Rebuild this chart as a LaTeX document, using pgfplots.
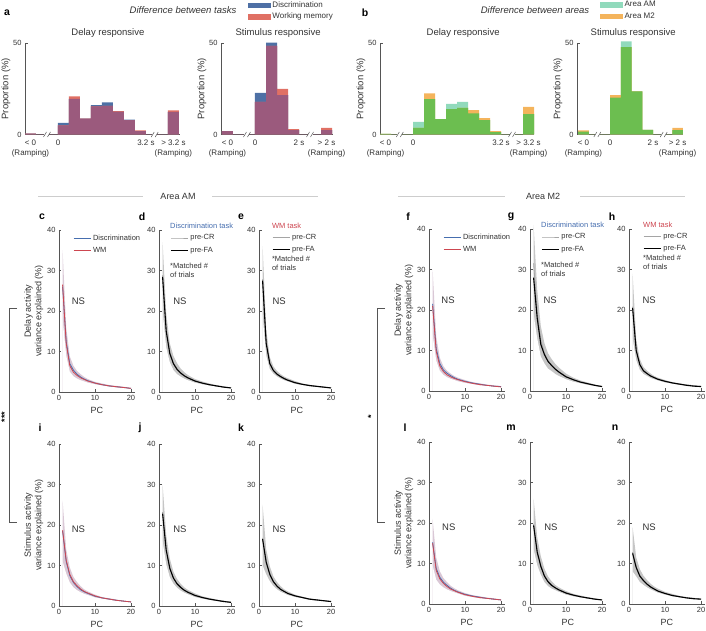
\documentclass[border=0pt]{standalone}
\usepackage{fontspec}
\setmainfont{Liberation Sans}
\setsansfont{Liberation Sans}
\usepackage{pgfplots}
\usepackage{pgfplotstable}
\pgfplotsset{compat=1.18}

\definecolor{axgray}{HTML}{555555}
\definecolor{txt}{HTML}{333333}
\definecolor{hBlue}{RGB}{78,112,165}
\definecolor{hRed}{RGB}{224,112,100}
\definecolor{hPurple}{RGB}{155,90,125}
\definecolor{hTeal}{RGB}{145,218,188}
\definecolor{hOrange}{RGB}{244,180,92}
\definecolor{hGreen}{RGB}{108,190,80}
\definecolor{cBlue}{RGB}{70,110,175}
\definecolor{cRed}{RGB}{205,70,80}
\definecolor{cGray}{RGB}{165,165,165}
\definecolor{bandTask}{RGB}{218,200,214}
\definecolor{bandTrial}{RGB}{198,198,198}
\definecolor{hdrline}{RGB}{205,205,205}

\newcommand{\ftick}{\fontsize{7.5}{9}\selectfont}
\newcommand{\fhtick}{\fontsize{8}{10}\selectfont}
\newcommand{\flab}{\fontsize{9}{10.5}\selectfont}
\newcommand{\fleg}{\fontsize{7.5}{9}\selectfont}
\newcommand{\ftitle}{\fontsize{9.5}{11}\selectfont}
\newcommand{\fletter}{\bfseries\fontsize{10.5}{12}\selectfont}

\pgfplotsset{
  base/.style={scale only axis, anchor=south west, axis lines*=left,
    axis line style={axgray, line width=0.6pt},
    tick style={axgray, line width=0.5pt}, tick align=inside, major tick length=2.5pt,
    tick label style={font=\ftick, text=txt},
    label style={font=\flab, text=txt},
    /pgf/number format/assume math mode=true, clip=false},
  hist/.style={base, height=91.5pt, ymin=0, ymax=50, ytick={0,50},
    xtick style={draw=none}, xticklabel style={align=center, font=\fhtick, yshift=-2pt},
    ylabel={Proportion (\%)}, ylabel style={font=\ftitle}, ylabel shift=-4pt,
    title style={font=\ftitle, text=txt, yshift=-4pt}},
  pca/.style={base, axis on top, width=75.6pt, height=162pt, xmin=0, xmax=21, ymin=0, ymax=40,
    xtick={0,10,20}, ytick={0,10,20,30,40}, xlabel={PC},
    ylabel style={align=center}, ylabel shift=-3pt,
    legend style={draw=none, fill=none, font=\fleg, text=txt, inner sep=0pt,
      row sep=1.5pt, anchor=north west},
    legend cell align=left},
}

% columns: PC, series a (mean), series b (mean), shaded band (low, high)
\pgfplotstableread{
pc a b lo hi
1 26.0 26.5 18.0 35.0
2 12.5 12.0 9.0 16.0
3 7.0 6.5 5.0 8.8
4 5.4 4.9 3.9 6.5
5 4.4 4.1 3.3 5.2
6 3.7 3.5 2.9 4.4
7 3.2 3.1 2.6 3.7
8 2.8 2.7 2.3 3.2
10 2.2 2.2 1.9 2.5
12 1.8 1.8 1.6 2.1
14 1.5 1.5 1.3 1.7
16 1.3 1.3 1.1 1.5
18 1.1 1.1 1.0 1.3
20 0.9 0.9 0.8 1.0
}\tabc
\pgfplotstableread{
pc a b lo hi
1 28.8 28.4 20.0 37.0
2 15.5 15.0 11.0 19.5
3 9.8 9.5 7.3 12.0
4 7.2 7.0 5.4 8.9
5 5.8 5.6 4.4 7.1
6 4.8 4.7 3.8 5.8
7 4.1 4.0 3.3 4.9
8 3.6 3.5 2.9 4.2
10 2.8 2.7 2.3 3.2
12 2.2 2.2 1.9 2.6
14 1.8 1.8 1.6 2.1
16 1.5 1.5 1.3 1.7
18 1.2 1.2 1.1 1.4
20 1.0 1.0 0.9 1.1
}\tabd
\pgfplotstableread{
pc a b lo hi
1 27.8 27.5 19.0 36.0
2 12.5 12.0 9.0 15.5
3 7.2 7.0 5.6 8.6
4 5.4 5.3 4.5 6.3
5 4.5 4.4 3.8 5.2
6 3.9 3.8 3.3 4.4
7 3.4 3.3 2.9 3.8
8 3.0 2.9 2.6 3.4
10 2.4 2.3 2.0 2.7
12 1.9 1.9 1.7 2.1
14 1.6 1.6 1.4 1.8
16 1.4 1.4 1.2 1.5
18 1.2 1.2 1.1 1.3
20 1.0 1.0 0.9 1.1
}\tabe
\pgfplotstableread{
pc a b lo hi
1 21.5 21.0 14.0 30.0
2 10.5 9.8 7.5 13.5
3 6.8 6.2 5.0 8.2
4 5.2 4.8 4.0 6.1
5 4.4 4.0 3.4 5.0
6 3.8 3.5 3.0 4.3
7 3.3 3.1 2.7 3.7
8 2.9 2.8 2.4 3.3
10 2.4 2.3 2.0 2.7
12 2.0 1.9 1.7 2.2
14 1.7 1.6 1.4 1.9
16 1.4 1.4 1.3 1.6
18 1.2 1.2 1.1 1.4
20 1.1 1.0 0.9 1.2
}\tabf
\pgfplotstableread{
pc a b lo hi
1 31.5 28.0 19.0 41.0
2 19.5 18.0 13.0 25.0
3 12.5 11.5 8.5 16.0
4 9.3 9.0 6.8 11.8
5 7.5 7.3 5.5 9.3
6 6.4 6.3 4.9 7.9
7 5.5 5.4 4.2 6.7
8 4.8 4.7 3.7 5.8
10 3.6 3.5 2.9 4.3
12 2.8 2.8 2.3 3.3
14 2.2 2.2 1.9 2.6
16 1.8 1.8 1.5 2.1
18 1.4 1.4 1.2 1.6
20 1.1 1.1 1.0 1.2
}\tabg
\pgfplotstableread{
pc a b lo hi
1 20.8 20.5 13.0 29.0
2 10.2 10.0 7.6 12.8
3 6.6 6.5 5.2 7.9
4 5.1 5.0 4.2 5.9
5 4.4 4.3 3.7 5.0
6 3.8 3.7 3.2 4.3
7 3.3 3.3 2.9 3.7
8 3.0 2.9 2.6 3.3
10 2.4 2.4 2.1 2.7
12 2.0 2.0 1.8 2.2
14 1.7 1.7 1.5 1.9
16 1.5 1.4 1.3 1.6
18 1.3 1.2 1.1 1.4
20 1.1 1.1 1.0 1.2
}\tabh
\pgfplotstableread{
pc a b lo hi
1 18.5 18.7 11.0 26.0
2 11.0 11.3 8.0 14.0
3 7.5 7.8 5.8 9.5
4 5.8 6.0 4.6 7.2
5 4.8 5.0 3.9 5.9
6 4.0 4.2 3.4 4.9
7 3.5 3.6 3.0 4.1
8 3.1 3.2 2.7 3.6
10 2.4 2.5 2.1 2.8
12 2.0 2.0 1.8 2.2
14 1.7 1.7 1.5 1.9
16 1.4 1.4 1.3 1.6
18 1.2 1.2 1.1 1.3
20 1.0 1.0 0.9 1.1
}\tabi
\pgfplotstableread{
pc a b lo hi
1 23.2 22.8 16.0 30.0
2 14.0 13.8 10.3 17.5
3 9.5 9.3 7.1 11.7
4 7.0 6.9 5.5 8.5
5 5.6 5.5 4.5 6.7
6 4.7 4.6 3.8 5.5
7 4.0 3.9 3.3 4.6
8 3.5 3.4 2.9 4.0
10 2.7 2.6 2.2 3.1
12 2.1 2.1 1.8 2.4
14 1.7 1.7 1.5 2.0
16 1.4 1.4 1.2 1.6
18 1.2 1.1 1.0 1.3
20 0.9 0.9 0.8 1.0
}\tabj
\pgfplotstableread{
pc a b lo hi
1 16.8 16.5 10.0 25.0
2 11.0 10.8 7.8 14.0
3 8.0 7.8 6.1 9.8
4 6.1 6.0 4.9 7.3
5 5.0 4.9 4.1 5.9
6 4.2 4.1 3.5 4.9
7 3.6 3.6 3.1 4.1
8 3.2 3.1 2.7 3.6
10 2.5 2.5 2.2 2.8
12 2.1 2.1 1.9 2.3
14 1.7 1.7 1.5 1.9
16 1.5 1.5 1.3 1.6
18 1.3 1.3 1.2 1.4
20 1.1 1.1 1.0 1.2
}\tabk
\pgfplotstableread{
pc a b lo hi
1 15.2 15.0 9.5 21.0
2 8.8 8.3 6.0 11.5
3 6.6 6.2 4.8 8.1
4 5.4 5.1 4.1 6.4
5 4.6 4.3 3.6 5.4
6 3.9 3.7 3.2 4.5
7 3.4 3.3 2.9 3.9
8 3.0 2.9 2.6 3.4
10 2.4 2.3 2.0 2.7
12 2.0 1.9 1.7 2.2
14 1.7 1.6 1.4 1.9
16 1.4 1.4 1.3 1.6
18 1.2 1.2 1.1 1.4
20 1.0 1.0 0.9 1.1
}\tabl
\pgfplotstableread{
pc a b lo hi
1 19.8 19.4 13.5 26.0
2 13.2 12.8 9.6 16.5
3 9.6 9.3 7.2 11.8
4 7.1 6.9 5.4 8.7
5 5.6 5.5 4.4 6.8
6 4.7 4.6 3.8 5.6
7 4.0 4.0 3.4 4.7
8 3.5 3.5 3.0 4.1
10 2.8 2.7 2.3 3.2
12 2.2 2.2 1.9 2.5
14 1.8 1.8 1.6 2.1
16 1.5 1.5 1.3 1.7
18 1.2 1.2 1.1 1.4
20 1.0 1.0 0.9 1.1
}\tabm
\pgfplotstableread{
pc a b lo hi
1 12.8 12.5 8.0 19.0
2 9.2 9.0 6.8 11.5
3 7.1 6.9 5.4 8.6
4 5.9 5.8 4.7 7.0
5 5.0 4.9 4.1 5.9
6 4.3 4.2 3.6 5.0
7 3.7 3.7 3.2 4.3
8 3.3 3.2 2.8 3.8
10 2.6 2.6 2.3 3.0
12 2.2 2.1 1.9 2.5
14 1.8 1.8 1.6 2.0
16 1.6 1.5 1.4 1.7
18 1.4 1.3 1.2 1.5
20 1.2 1.2 1.1 1.3
}\tabn

% band: filled under "hi", then "lo" filled in white
\newcommand{\band}[2]{%
  \addplot[fill=#2, draw=none, forget plot] table[x=pc,y=hi]{#1} \closedcycle;
  \addplot[fill=white, draw=none, forget plot] table[x=pc,y=lo]{#1} \closedcycle;}

% Discrimination (blue) vs WM (red)
\newcommand{\taskpanel}[5]{%
  \begin{axis}[pca, at={(#1pt,#2pt)}, #4]
    \band{#3}{bandTask}
    \addplot[cBlue, line width=0.8pt] table[x=pc,y=a]{#3};
    \addplot[cRed, line width=0.8pt] table[x=pc,y=b]{#3};
    #5
  \end{axis}}

% pre-CR (gray) vs pre-FA (black)
\newcommand{\trialpanel}[5]{%
  \begin{axis}[pca, at={(#1pt,#2pt)}, #4]
    \band{#3}{bandTrial}
    \addplot[cGray, line width=0.8pt] table[x=pc,y=a]{#3};
    \addplot[black, line width=1.1pt] table[x=pc,y=b]{#3};
    #5
  \end{axis}}

\newcommand{\brk}[1]{%
  \fill[white] ([xshift=-2.5pt,yshift=-1pt]axis cs:#1,0) rectangle ([xshift=2.5pt,yshift=1pt]axis cs:#1,0);
  \draw[axgray, line width=0.5pt] ([xshift=-3.5pt,yshift=-2.5pt]axis cs:#1,0) -- ++(3pt,5pt);
  \draw[axgray, line width=0.5pt] ([xshift=0.5pt,yshift=-2.5pt]axis cs:#1,0) -- ++(3pt,5pt);}

\newcommand{\NS}[2]{\node[font=\ftitle, text=txt] at (axis cs:#1,#2) {NS};}

\begin{document}
\begin{tikzpicture}[x=1pt,y=1pt]
\useasboundingbox (0,0) rectangle (706,631);

% ---------- a: difference between tasks ----------
\begin{axis}[hist, at={(25pt,496.5pt)}, width=155pt, xmin=-3, xmax=11.1,
  xtick={-2.5,0,8,10.5},
  xticklabels={{< 0\\(Ramping)},0,3.2 s,{> 3.2 s\\(Ramping)}},
  title={Delay responsive}, title style={at={(0.535,1)}}]
\addplot[ybar interval, fill=hBlue, draw=none] coordinates {(-3,0.5) (-2,0) (0,6.3) (1,19.5) (2,8.7) (3,16.1) (4,17.5) (5,12.5) (6,8.1) (7,1.8) (8,0) (10,12.3) (11,0)};
\addplot[ybar interval, fill=hRed, draw=none] coordinates {(-3,0.5) (-2,0) (0,5.0) (1,20.8) (2,8.7) (3,15.3) (4,15.7) (5,12.8) (6,7.8) (7,2.2) (8,0) (10,13.2) (11,0)};
\addplot[ybar interval, fill=hPurple, draw=none] coordinates {(-3,0.5) (-2,0) (0,5.0) (1,19.5) (2,8.7) (3,15.3) (4,15.7) (5,12.5) (6,7.8) (7,1.8) (8,0) (10,12.3) (11,0)};
\brk{-1}\brk{8.8}
\end{axis}

\begin{axis}[hist, at={(221pt,496.5pt)}, width=112pt, xmin=-3.09, xmax=7.09,
  xtick={-2.5,0,4,6.5},
  xticklabels={{< 0\\(Ramping)},0,2 s,{> 2 s\\(Ramping)}},
  title={Stimulus responsive}, title style={at={(0.51,1)}},
  legend style={at={(axis description cs:0.24,1.48)}, anchor=north west, draw=none,
    fill=none, font=\fhtick, text=txt, inner sep=0pt, row sep=0.5pt},
  legend cell align=left]
\addplot[ybar interval, fill=hBlue, draw=none, forget plot] coordinates {(-3,1.8) (-2,0) (0,22.7) (1,50.2) (2,21.5) (3,2.4) (4,0) (6,2.4) (7,0)};
\addplot[ybar interval, fill=hRed, draw=none, forget plot] coordinates {(-3,1.8) (-2,0) (0,17.8) (1,48.4) (2,24.9) (3,3.0) (4,0) (6,3.6) (7,0)};
\addplot[ybar interval, fill=hPurple, draw=none, forget plot] coordinates {(-3,1.8) (-2,0) (0,17.8) (1,48.4) (2,21.5) (3,2.4) (4,0) (6,2.4) (7,0)};
\addlegendimage{legend image code/.code={\fill[hBlue] (0pt,-2.2pt) rectangle (22pt,2.2pt);}}
\addlegendentry{Discrimination}
\addlegendimage{legend image code/.code={\fill[hRed] (0pt,-2.2pt) rectangle (22pt,2.2pt);}}
\addlegendentry{Working memory}
\brk{-0.73}\brk{5}
\end{axis}

% ---------- b: difference between areas ----------
\begin{axis}[hist, at={(380pt,496.5pt)}, width=154pt, xmin=-3, xmax=11,
  xtick={-2.5,0,8,10.5},
  xticklabels={{< 0\\(Ramping)},0,3.2 s,{> 3.2 s\\(Ramping)}},
  title={Delay responsive}, title style={at={(0.54,1)}}]
\addplot[ybar interval, fill=hTeal, draw=none] coordinates {(-3,0.3) (-2,0) (0,6.9) (1,19.3) (2,8.4) (3,16.7) (4,17.8) (5,11.5) (6,7.8) (7,1.3) (8,0) (10,11.1) (11,0)};
\addplot[ybar interval, fill=hOrange, draw=none] coordinates {(-3,0.3) (-2,0) (0,3.6) (1,22.4) (2,8.4) (3,13.8) (4,14.5) (5,13.3) (6,8.9) (7,1.8) (8,0) (10,15.1) (11,0)};
\addplot[ybar interval, fill=hGreen, draw=none] coordinates {(-3,0.3) (-2,0) (0,3.6) (1,19.3) (2,8.4) (3,13.8) (4,14.5) (5,11.5) (6,7.8) (7,1.3) (8,0) (10,11.1) (11,0)};
\brk{-1.2}\brk{9}
\end{axis}

\begin{axis}[hist, at={(577pt,496.5pt)}, width=106pt, xmin=-3.1, xmax=6.8,
  xtick={-2.5,0,4,6.3},
  xticklabels={{< 0\\(Ramping)},0,2 s,{> 2 s\\(Ramping)}},
  title={Stimulus responsive}, title style={at={(0.53,1)}},
  legend style={at={(axis description cs:0.217,1.48)}, anchor=north west, draw=none,
    fill=none, font=\fhtick, text=txt, inner sep=0pt, row sep=0.5pt},
  legend cell align=left]
\addplot[ybar interval, fill=hTeal, draw=none, forget plot] coordinates {(-3,1.6) (-2,0) (0,20.2) (1,50.9) (2,23.6) (3,2.5) (4,0) (5.8,2.4) (6.8,0)};
\addplot[ybar interval, fill=hOrange, draw=none, forget plot] coordinates {(-3,2.2) (-2,0) (0,21.5) (1,47.8) (2,23.6) (3,2.5) (4,0) (5.8,3.6) (6.8,0)};
\addplot[ybar interval, fill=hGreen, draw=none, forget plot] coordinates {(-3,1.6) (-2,0) (0,20.2) (1,47.8) (2,23.6) (3,2.5) (4,0) (5.8,2.4) (6.8,0)};
\addlegendimage{legend image code/.code={\fill[hTeal] (0pt,-2.2pt) rectangle (22pt,2.2pt);}}
\addlegendentry{Area AM}
\addlegendimage{legend image code/.code={\fill[hOrange] (0pt,-2.2pt) rectangle (22pt,2.2pt);}}
\addlegendentry{Area M2}
\brk{-1.2}\brk{5}
\end{axis}

% ---------- Area AM ----------
\taskpanel{59}{239}{\tabc}{ylabel={Delay activity\\variance explained (\%)},
  legend entries={Discrimination,WM},
  legend style={at={(axis description cs:0.185,0.985)}}}{\NS{5.4}{22.5}}
\trialpanel{159}{239}{\tabd}{legend entries={pre-CR,pre-FA},
  legend style={at={(axis description cs:0.146,0.985)}}}{\NS{5.8}{22.5}
  \node[font=\fleg, text=cBlue, anchor=base west, inner sep=0pt] at (axis description cs:0.146,1.01) {Discrimination task};
  \node[font=\fleg, text=txt, anchor=north west, align=left, inner sep=0pt] at (axis description cs:0.146,0.80) {*Matched \#\\of trials};}
\trialpanel{259}{239}{\tabe}{legend entries={pre-CR,pre-FA},
  legend style={at={(axis description cs:0.17,0.99)}}}{\NS{5.6}{22.5}
  \node[font=\fleg, text=cRed, anchor=base west, inner sep=0pt] at (axis description cs:0.17,1.01) {WM task};
  \node[font=\fleg, text=txt, anchor=north west, align=left, inner sep=0pt] at (axis description cs:0.17,0.84) {*Matched \#\\of trials};}
\taskpanel{59}{25}{\tabi}{ylabel={Stimulus activity\\variance explained (\%)}}{\NS{5.4}{19}}
\trialpanel{159}{25}{\tabj}{}{\NS{5.8}{19}}
\trialpanel{259}{25}{\tabk}{}{\NS{5.6}{19}}

% ---------- Area M2 ----------
\taskpanel{429}{240}{\tabf}{ylabel={Delay activity\\variance explained (\%)},
  legend entries={Discrimination,WM},
  legend style={at={(axis description cs:0.185,0.985)}}}{\NS{5.3}{22.5}}
\trialpanel{530}{240}{\tabg}{legend entries={pre-CR,pre-FA},
  legend style={at={(axis description cs:0.146,0.985)}}}{\NS{5.6}{22.5}
  \node[font=\fleg, text=cBlue, anchor=base west, inner sep=0pt] at (axis description cs:0.146,1.01) {Discrimination task};
  \node[font=\fleg, text=txt, anchor=north west, align=left, inner sep=0pt] at (axis description cs:0.146,0.80) {*Matched \#\\of trials};}
\trialpanel{629}{240}{\tabh}{legend entries={pre-CR,pre-FA},
  legend style={at={(axis description cs:0.185,0.99)}}}{\NS{5.6}{22.5}
  \node[font=\fleg, text=cRed, anchor=base west, inner sep=0pt] at (axis description cs:0.185,1.01) {WM task};
  \node[font=\fleg, text=txt, anchor=north west, align=left, inner sep=0pt] at (axis description cs:0.185,0.84) {*Matched \#\\of trials};}
\taskpanel{429}{27}{\tabl}{ylabel={Stimulus activity\\variance explained (\%)}}{\NS{5.5}{19}}
\trialpanel{530}{27}{\tabm}{}{\NS{5.8}{19}}
\trialpanel{629}{27}{\tabn}{}{\NS{5.6}{19}}

% ---------- headers, letters, brackets ----------
\node[font=\fletter] at (7,618) {a};
\node[font=\fletter] at (365,618) {b};
\node[font=\itshape\ftitle, text=txt] at (183,621) {Difference between tasks};
\node[font=\itshape\ftitle, text=txt] at (535,621) {Difference between areas};

\draw[hdrline, line width=0.7pt] (38,435) -- (143,435) (212,435) -- (318,435);
\node[font=\flab, text=txt] at (178,435) {Area AM};
\draw[hdrline, line width=0.7pt] (398,435) -- (505,435) (580,435) -- (685,435);
\node[font=\flab, text=txt] at (543,435) {Area M2};

\foreach \l/\x/\y in {c/42/414, d/142/414, e/241/414, f/408/414, g/511/414, h/612/414,
                       i/40/203, j/140/203, k/241/203, l/405/203, m/511/203, n/615/203}
  \node[font=\fletter] at (\x,\y) {\l};

\draw[axgray, line width=0.6pt] (17,323) -- (9,323) -- (9,109) -- (17,109);
\node[font=\bfseries\fontsize{9}{10}\selectfont, rotate=90, inner sep=0pt] at (4.5,214) {***};
\draw[axgray, line width=0.6pt] (385,323) -- (377,323) -- (377,109) -- (385,109);
\node[font=\bfseries\fontsize{9}{10}\selectfont, rotate=90, inner sep=0pt] at (371,214) {*};
\end{tikzpicture}
\end{document}
